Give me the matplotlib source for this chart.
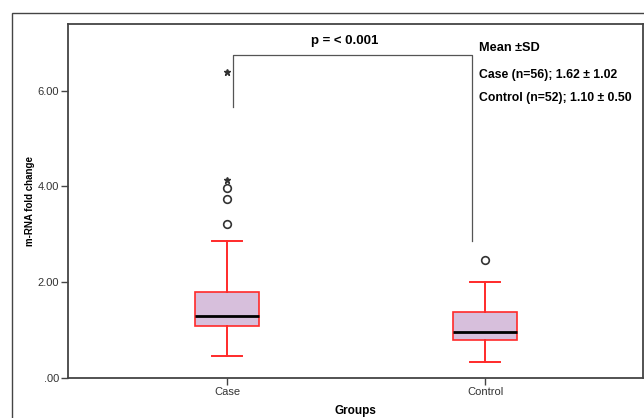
import matplotlib
matplotlib.use("Agg")
import matplotlib.pyplot as plt
from matplotlib.patches import Rectangle

plt.rcParams["font.family"] = ["Liberation Sans", "DejaVu Sans"]

# data
groups = ["Case", "Control"]
q1 = [1.09, 0.79]
medians = [1.30, 0.97]
q3 = [1.80, 1.37]
whisk_low = [0.46, 0.34]
whisk_high = [2.86, 2.00]
outliers = [[3.21, 3.74, 3.97], [2.47]]
extremes = [[4.13, 6.39], []]
yticks = [0, 2, 4, 6]
ytick_labels = [".00", "2.00", "4.00", "6.00"]
stat_lines = ["Case (n=56); 1.62 \u00b1 1.02", "Control (n=52); 1.10 \u00b1 0.50"]

red = "#ff2a2a"
fill = "#d7bfdc"
grey = "#444444"

fig = plt.figure(figsize=(6.44, 4.18), dpi=100)
ax = fig.add_axes([68 / 644, 1 - 378 / 418, 575 / 644, 354 / 418])

# outer frame of the SPSS chart
fig.patches.append(Rectangle((12 / 644, -0.05), 1.2, 1.05 - 13 / 418,
                             transform=fig.transFigure, fill=False,
                             edgecolor=grey, linewidth=1.0))

stats = []
for i, g in enumerate(groups):
    stats.append({"label": g, "q1": q1[i], "med": medians[i], "q3": q3[i],
                  "whislo": whisk_low[i], "whishi": whisk_high[i], "fliers": []})

ax.bxp(stats, positions=range(len(groups)), widths=0.25, capwidths=0.115,
       patch_artist=True, showfliers=False,
       boxprops=dict(facecolor=fill, edgecolor=red, linewidth=1.2),
       whiskerprops=dict(color=red, linewidth=1.4),
       capprops=dict(color=red, linewidth=1.4),
       medianprops=dict(color="black", linewidth=2.0))

for i in range(len(groups)):
    if outliers[i]:
        ax.plot([i] * len(outliers[i]), outliers[i], "o", mfc="none",
                mec="#333333", mew=1.2, ms=5.5)
    if extremes[i]:
        ax.plot([i] * len(extremes[i]), extremes[i], "*", color="#333333", ms=4.5)

# significance bracket
ax.plot([0.023, 0.023, 0.95, 0.95], [5.66, 6.74, 6.74, 2.86],
        color="#555555", linewidth=0.9)
ax.text(0.457, 7.03, "p = < 0.001", ha="center", va="center",
        fontsize=9.5, fontweight="bold")

ax.text(0.977, 6.88, "Mean \u00b1SD", ha="left", va="center",
        fontsize=9.2, fontweight="bold")
ax.text(0.977, 6.32, stat_lines[0], ha="left", va="center",
        fontsize=8.8, fontweight="bold")
ax.text(0.977, 5.84, stat_lines[1], ha="left", va="center",
        fontsize=8.8, fontweight="bold")

ax.set_xlim(-0.616, 1.612)
ax.set_ylim(0, 7.39)
ax.set_yticks(yticks)
ax.set_yticklabels(ytick_labels)
ax.set_xticks(range(len(groups)))
ax.set_xticklabels(groups)
ax.tick_params(axis="both", labelsize=8, color=grey, labelcolor="#333333",
               length=5, width=1.0, pad=1.5)

for s in ax.spines.values():
    s.set_color(grey)
    s.set_linewidth(1.3)

ax.set_ylabel("m-RNA fold change", fontsize=7, fontweight="bold", labelpad=1.5)
ax.set_xlabel("Groups", fontsize=8.5, fontweight="bold", labelpad=6)

fig.savefig("out.png", dpi=100)
